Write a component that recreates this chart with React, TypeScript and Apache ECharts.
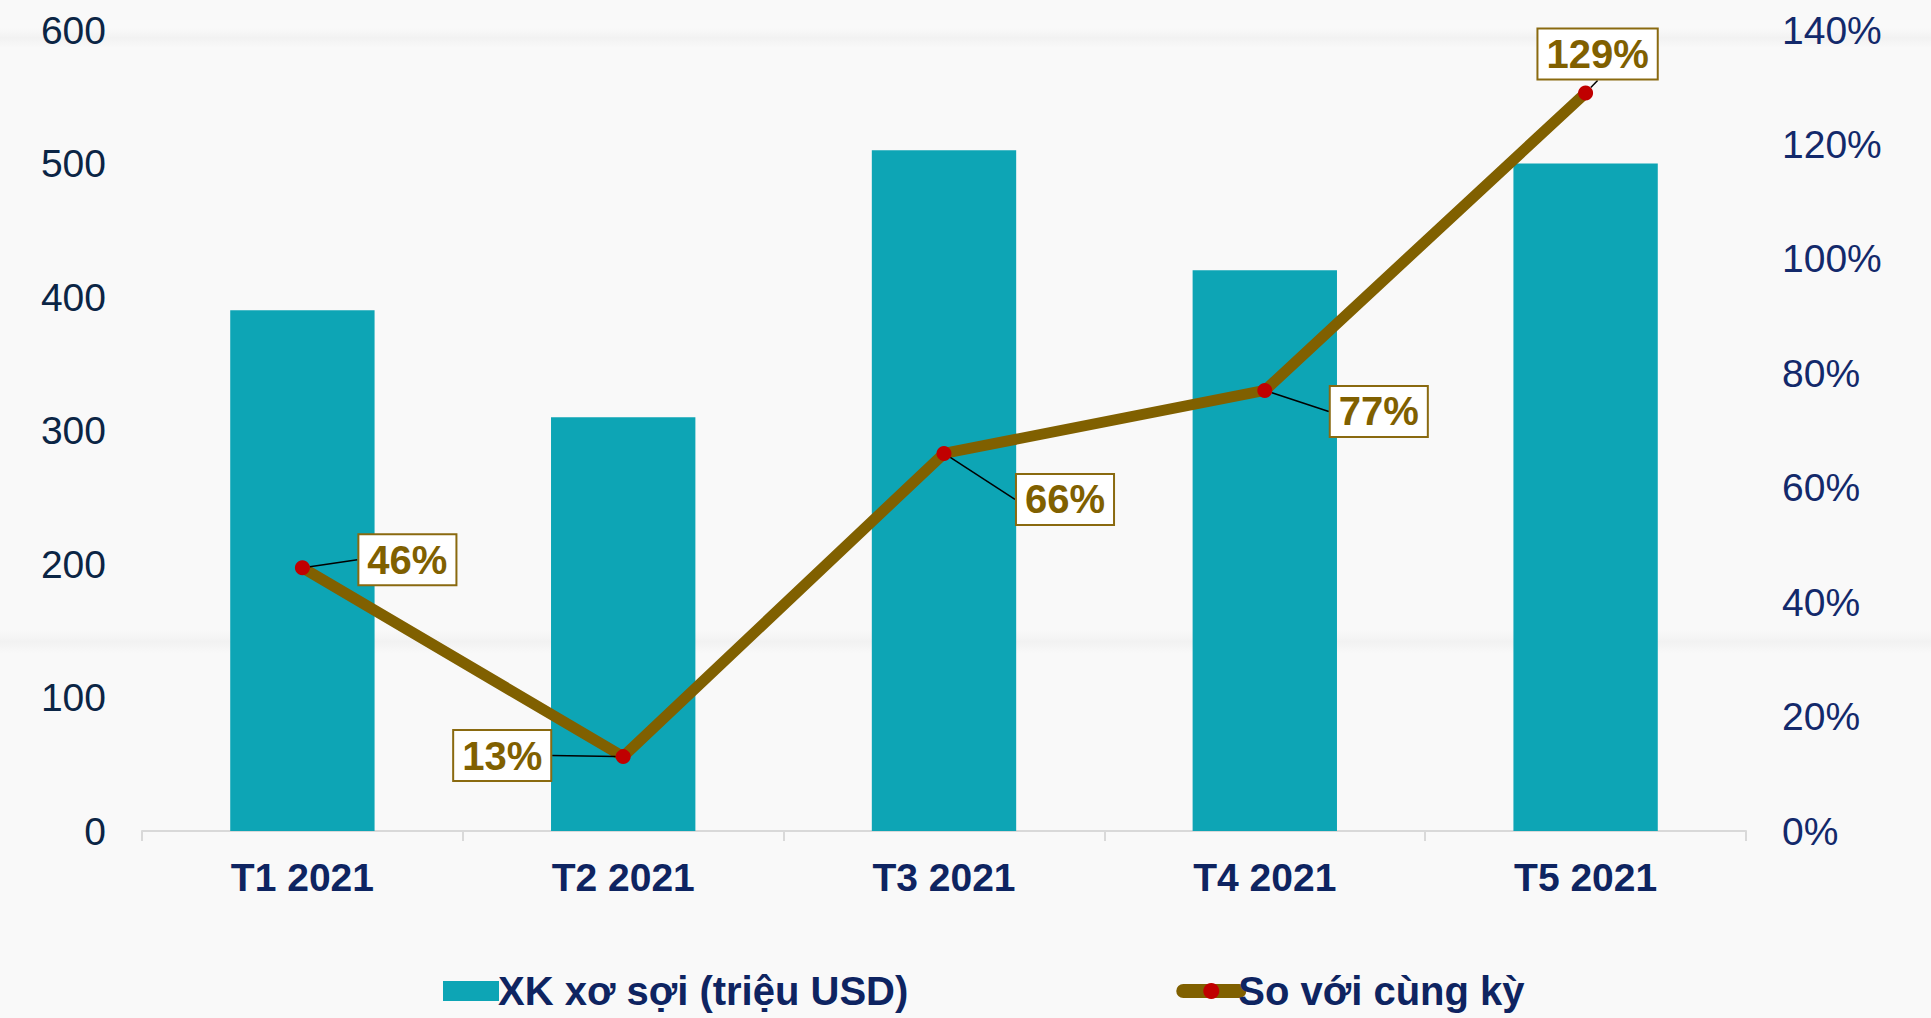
import React, { useEffect, useRef } from "react";
import * as echarts from "echarts";

const categories = ["T1 2021", "T2 2021", "T3 2021", "T4 2021", "T5 2021"];
const exportValues = [390, 310, 510, 420, 500];
const yoyValues = [46, 13, 66, 77, 129];
const leftTicks = { min: 0, max: 600, interval: 100 };
const rightTicks = { min: 0, max: 140, interval: 20 };
const barName = "XK xơ sợi (triệu USD)";
const lineName = "So với cùng kỳ";
// label offsets (px) from each point
const labelOffsets = [
  [105, -8],
  [-121, -1],
  [121, 46],
  [114, 21],
  [12, -39],
];

const FONT = "'Liberation Sans', Arial, sans-serif";
const NAVY = "#0e2461";

export default function App() {
  const ref = useRef<HTMLDivElement>(null);
  useEffect(() => {
    if (!ref.current) return;
    const chart = echarts.init(ref.current, undefined, { renderer: "svg" });
    const streak = (y: number, h: number) => ({
      type: "rect",
      z: -10,
      silent: true,
      shape: { x: 0, y, width: 1931, height: h },
      style: {
        fill: new echarts.graphic.LinearGradient(0, 0, 0, 1, [
          { offset: 0, color: "rgba(238,238,238,0)" },
          { offset: 0.5, color: "rgba(236,236,236,0.55)" },
          { offset: 1, color: "rgba(238,238,238,0)" },
        ]),
      },
    });
    chart.setOption({
      animation: false,
      backgroundColor: "#f9f9f9",
      textStyle: { fontFamily: FONT },
      graphic: [streak(28, 20), streak(630, 24)],
      grid: { left: 142, right: 185, top: 30, bottom: 187 },
      legend: {
        left: 438,
        top: 966,
        itemGap: 268,
        itemWidth: 56,
        itemHeight: 20,
        textStyle: { fontFamily: FONT, fontSize: 40, fontWeight: "bold", color: NAVY, padding: [0, 0, 0, -6] },
        data: [
          { name: barName, icon: "rect" },
          {
            name: lineName,
            itemStyle: { color: "#c00000" },
            lineStyle: { color: "#806000", width: 14, cap: "round" },
          },
        ],
      },
      xAxis: {
        type: "category",
        data: categories,
        axisLine: { lineStyle: { color: "#d9d9d9", width: 2 } },
        axisTick: { show: true, length: 10, lineStyle: { color: "#d9d9d9", width: 2 } },
        axisLabel: { fontFamily: FONT, fontSize: 39, fontWeight: "bold", color: NAVY, margin: 27 },
      },
      yAxis: [
        {
          type: "value",
          ...leftTicks,
          axisLine: { show: false },
          axisTick: { show: false },
          splitLine: { show: false },
          axisLabel: { fontFamily: FONT, fontSize: 39, color: "#0b2545", margin: 36 },
        },
        {
          type: "value",
          ...rightTicks,
          axisLine: { show: false },
          axisTick: { show: false },
          splitLine: { show: false },
          axisLabel: { fontFamily: FONT, fontSize: 39, color: "#13296b", margin: 36, formatter: "{value}%" },
        },
      ],
      series: [
        {
          name: barName,
          type: "bar",
          data: exportValues,
          barWidth: "45%",
          itemStyle: { color: "#0da5b5" },
        },
        {
          name: lineName,
          type: "line",
          yAxisIndex: 1,
          data: yoyValues,
          symbol: "circle",
          symbolSize: 15,
          z: 5,
          lineStyle: { color: "#806000", width: 11 },
          itemStyle: { color: "#c00000" },
          label: {
            show: true,
            position: "inside",
            formatter: "{c}%",
            fontFamily: FONT,
            fontSize: 40,
            fontWeight: "bold",
            color: "#806000",
            backgroundColor: "#ffffff",
            borderColor: "#8a6a10",
            borderWidth: 2,
            padding: [5, 8, 4, 8],
          },
          labelLine: { show: true, lineStyle: { color: "#000000", width: 1.5 } },
          labelLayout: (params: any) => ({
            dx: labelOffsets[params.dataIndex][0],
            dy: labelOffsets[params.dataIndex][1],
          }),
        },
      ],
    });
    return () => chart.dispose();
  }, []);
  return (
    <div
      ref={ref}
      style={{ position: "fixed", left: 0, top: 0, width: 1931, height: 1018 }}
    />
  );
}
